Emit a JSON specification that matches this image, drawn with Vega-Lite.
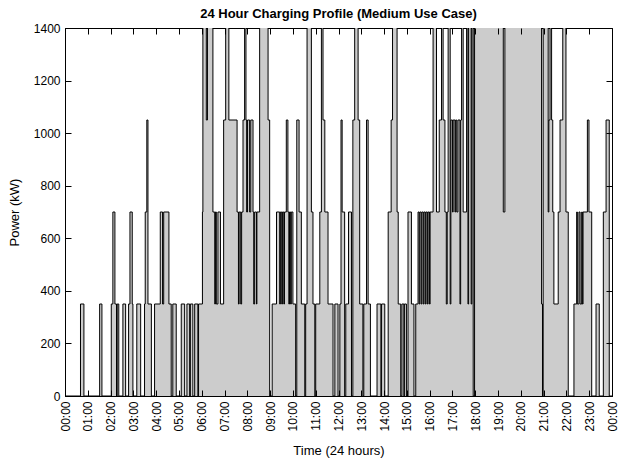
{
  "$schema": "https://vega.github.io/schema/vega-lite/v6.json",
  "autosize": {"type": "none"},
  "padding": {"left": 65, "top": 28, "right": 18, "bottom": 66},
  "width": 547,
  "height": 368,
  "background": "white",
  "config": {
    "font": "Liberation Sans",
    "view": {"stroke": "black", "strokeWidth": 1},
    "axis": {"grid": false, "domainColor": "black", "tickColor": "black", "labelColor": "black", "titleColor": "black", "labelFont": "Liberation Sans", "titleFont": "Liberation Sans", "labelFontSize": 12, "titleFontSize": 13, "titleFontWeight": "normal"}
  },
  "title": {"text": "24 Hour Charging Profile (Medium Use Case)", "fontSize": 13, "fontWeight": "bold", "font": "Liberation Sans", "color": "black", "anchor": "middle", "offset": 1},
  "data": {"values": [
    {"t":0,"p":0},{"t":0.68,"p":350},{"t":0.83,"p":0},{"t":1.52,"p":350},{"t":1.62,"p":0},
    {"t":2.03,"p":350},{"t":2.10,"p":700},{"t":2.19,"p":350},{"t":2.26,"p":0},{"t":2.29,"p":350},{"t":2.36,"p":0},
    {"t":2.54,"p":350},{"t":2.66,"p":0},{"t":2.79,"p":350},{"t":2.85,"p":700},{"t":2.95,"p":350},{"t":2.98,"p":0},
    {"t":3.15,"p":350},{"t":3.32,"p":0},{"t":3.49,"p":350},{"t":3.52,"p":700},{"t":3.59,"p":1050},{"t":3.64,"p":350},{"t":3.79,"p":0},
    {"t":3.93,"p":350},{"t":4.18,"p":700},{"t":4.28,"p":350},{"t":4.33,"p":700},{"t":4.56,"p":350},{"t":4.66,"p":0},
    {"t":4.73,"p":350},{"t":4.88,"p":0},{"t":5.10,"p":350},{"t":5.25,"p":0},{"t":5.35,"p":350},{"t":5.47,"p":0},{"t":5.50,"p":350},{"t":5.61,"p":0},
    {"t":5.69,"p":350},{"t":5.83,"p":0},{"t":5.86,"p":350},
    {"t":6.03,"p":700},{"t":6.05,"p":1750},{"t":6.20,"p":1050},{"t":6.25,"p":1750},{"t":6.49,"p":700},{"t":6.57,"p":350},{"t":6.60,"p":700},{"t":6.64,"p":350},{"t":6.71,"p":700},{"t":6.82,"p":350},
    {"t":6.96,"p":1050},{"t":7.05,"p":1750},{"t":7.19,"p":1050},{"t":7.55,"p":700},{"t":7.61,"p":350},{"t":7.64,"p":700},{"t":7.71,"p":350},{"t":7.75,"p":700},
    {"t":7.81,"p":1050},{"t":7.88,"p":1750},{"t":7.94,"p":1050},{"t":7.97,"p":700},{"t":8.01,"p":1050},{"t":8.10,"p":700},{"t":8.15,"p":1050},{"t":8.25,"p":700},{"t":8.28,"p":350},{"t":8.32,"p":700},{"t":8.40,"p":350},{"t":8.42,"p":700},
    {"t":8.54,"p":1750},{"t":8.91,"p":1050},{"t":8.98,"p":0},
    {"t":9.09,"p":350},{"t":9.28,"p":700},{"t":9.42,"p":350},{"t":9.45,"p":700},{"t":9.51,"p":350},{"t":9.54,"p":700},{"t":9.60,"p":350},{"t":9.63,"p":700},{"t":9.71,"p":1050},{"t":9.78,"p":700},{"t":9.82,"p":350},{"t":9.85,"p":700},{"t":9.90,"p":350},{"t":9.93,"p":700},{"t":10.00,"p":350},
    {"t":10.12,"p":0},{"t":10.17,"p":1050},{"t":10.27,"p":700},{"t":10.37,"p":350},{"t":10.52,"p":0},{"t":10.56,"p":350},{"t":10.62,"p":1750},{"t":10.81,"p":700},{"t":10.88,"p":350},{"t":10.96,"p":0},
    {"t":11.00,"p":350},{"t":11.18,"p":700},{"t":11.25,"p":1750},{"t":11.32,"p":1050},{"t":11.40,"p":700},{"t":11.54,"p":350},{"t":11.76,"p":0},{"t":11.84,"p":350},{"t":11.98,"p":0},
    {"t":12.06,"p":350},{"t":12.11,"p":1050},{"t":12.16,"p":700},{"t":12.27,"p":0},{"t":12.32,"p":350},{"t":12.44,"p":700},{"t":12.57,"p":0},{"t":12.63,"p":1050},{"t":12.71,"p":1750},{"t":12.86,"p":1050},{"t":12.93,"p":350},
    {"t":13.07,"p":0},{"t":13.11,"p":350},{"t":13.23,"p":1050},{"t":13.30,"p":350},{"t":13.40,"p":0},{"t":13.69,"p":350},{"t":13.86,"p":0},{"t":13.89,"p":350},{"t":14.03,"p":0},
    {"t":14.18,"p":700},{"t":14.31,"p":1050},{"t":14.37,"p":1750},{"t":14.57,"p":700},{"t":14.62,"p":350},{"t":14.73,"p":0},{"t":14.78,"p":350},{"t":14.87,"p":0},{"t":14.89,"p":350},{"t":14.98,"p":0},
    {"t":15.05,"p":700},{"t":15.20,"p":350},{"t":15.31,"p":0},{"t":15.39,"p":350},{"t":15.49,"p":700},{"t":15.54,"p":350},{"t":15.57,"p":700},{"t":15.63,"p":350},{"t":15.66,"p":700},{"t":15.72,"p":350},{"t":15.75,"p":700},{"t":15.81,"p":350},{"t":15.84,"p":700},{"t":15.90,"p":350},{"t":15.93,"p":700},{"t":15.99,"p":350},{"t":16.02,"p":700},
    {"t":16.15,"p":1750},{"t":16.30,"p":700},{"t":16.42,"p":1050},{"t":16.52,"p":1750},{"t":16.59,"p":1050},{"t":16.67,"p":700},{"t":16.73,"p":350},{"t":16.77,"p":700},{"t":16.81,"p":1750},{"t":16.90,"p":350},{"t":16.93,"p":1050},
    {"t":17.00,"p":700},{"t":17.03,"p":1050},{"t":17.11,"p":700},{"t":17.14,"p":1050},{"t":17.19,"p":700},{"t":17.24,"p":1050},{"t":17.33,"p":350},{"t":17.36,"p":1050},{"t":17.40,"p":1750},{"t":17.47,"p":700},{"t":17.62,"p":1750},{"t":17.68,"p":350},{"t":17.71,"p":1750},{"t":17.82,"p":350},{"t":17.85,"p":1750},{"t":17.91,"p":0},{"t":17.97,"p":1750},
    {"t":19.23,"p":700},{"t":19.30,"p":1750},{"t":20.91,"p":350},{"t":20.95,"p":0},{"t":20.98,"p":1750},
    {"t":21.20,"p":700},{"t":21.23,"p":1050},{"t":21.28,"p":1750},{"t":21.35,"p":1050},{"t":21.40,"p":700},{"t":21.45,"p":350},{"t":21.64,"p":700},{"t":21.72,"p":1050},{"t":21.84,"p":1750},{"t":21.98,"p":700},
    {"t":22.08,"p":0},{"t":22.33,"p":350},{"t":22.45,"p":700},{"t":22.48,"p":350},{"t":22.55,"p":700},{"t":22.60,"p":350},{"t":22.67,"p":700},{"t":22.70,"p":350},{"t":22.73,"p":700},{"t":22.92,"p":1050},{"t":22.99,"p":700},
    {"t":23.11,"p":0},{"t":23.30,"p":350},{"t":23.44,"p":0},{"t":23.62,"p":700},{"t":23.74,"p":1050},{"t":23.88,"p":0},{"t":24,"p":0}
  ]},
  "layer": [
    {
      "mark": {"type": "line", "interpolate": "step-after", "opacity": 0, "clip": true},
      "encoding": {
        "x": {"field": "t", "type": "quantitative", "scale": {"domain": [0, 24], "nice": false, "zero": false},
          "axis": {"orient": "bottom", "zindex": 1, "labels": false, "title": null, "domain": false, "offset": -6, "tickSize": 6, "tickWidth": 1, "values": [0,1,2,3,4,5,6,7,8,9,10,11,12,13,14,15,16,17,18,19,20,21,22,23,24]}},
        "y": {"field": "p", "type": "quantitative", "scale": {"domain": [0, 1400], "nice": false},
          "axis": {"orient": "left", "zindex": 1, "labels": false, "title": null, "domain": false, "offset": -6, "tickSize": 6, "tickWidth": 1, "values": [0,200,400,600,800,1000,1200,1400]}}
      }
    },
    {
      "mark": {"type": "line", "interpolate": "step-after", "opacity": 0, "clip": true},
      "encoding": {
        "x": {"field": "t", "type": "quantitative",
          "axis": {"orient": "top", "zindex": 1, "labels": false, "title": null, "domain": false, "offset": -6, "tickSize": 6, "tickWidth": 1, "values": [0,1,2,3,4,5,6,7,8,9,10,11,12,13,14,15,16,17,18,19,20,21,22,23,24]}},
        "y": {"field": "p", "type": "quantitative",
          "axis": {"orient": "right", "zindex": 1, "labels": false, "title": null, "domain": false, "offset": -6, "tickSize": 6, "tickWidth": 1, "values": [0,200,400,600,800,1000,1200,1400]}}
      }
    },
    {
      "mark": {"type": "area", "interpolate": "step-after", "color": "#cccccc", "clip": true},
      "encoding": {
        "x": {"field": "t", "type": "quantitative",
          "axis": {"orient": "bottom", "zindex": 1, "ticks": false, "labelPadding": 5, "title": "Time (24 hours)", "values": [0,1,2,3,4,5,6,7,8,9,10,11,12,13,14,15,16,17,18,19,20,21,22,23,24], "labelAngle": 270, "labelExpr": "(datum.value % 24 < 10 ? '0' : '') + (datum.value % 24) + ':00'", "titlePadding": 13}},
        "y": {"field": "p", "type": "quantitative",
          "axis": {"orient": "left", "zindex": 1, "ticks": false, "labelPadding": 5, "title": "Power (kW)", "format": "d", "values": [0,200,400,600,800,1000,1200,1400], "titlePadding": 12}}
      }
    },
    {
      "mark": {"type": "line", "interpolate": "step-after", "color": "black", "strokeWidth": 1, "clip": true},
      "encoding": {
        "x": {"field": "t", "type": "quantitative", "axis": null},
        "y": {"field": "p", "type": "quantitative", "axis": null}
      }
    }
  ],
  "resolve": {"axis": {"x": "independent", "y": "independent"}}
}
